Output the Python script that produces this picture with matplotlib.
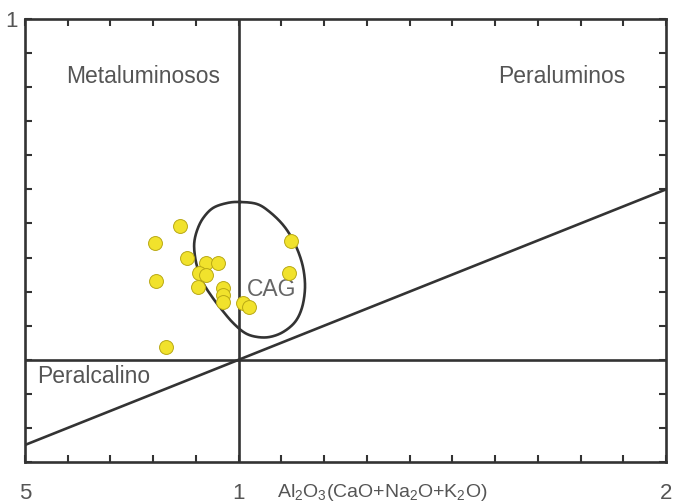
import numpy as np
import matplotlib
matplotlib.use("Agg")
import matplotlib.pyplot as plt

plt.rcParams['font.family'] = ['Liberation Sans', 'DejaVu Sans']
plt.rcParams['mathtext.fontset'] = 'custom'
plt.rcParams['mathtext.rm'] = 'Liberation Sans'
plt.rcParams['mathtext.it'] = 'Liberation Sans'

# --- data (A/CNK vs A/NK) ---
acnk = [0.863, 0.804, 0.879, 0.924, 0.952, 0.907, 0.924, 0.807, 0.905,
        0.963, 0.963, 0.963, 1.010, 1.024, 1.123, 1.118, 0.830]
ank = [1.785, 1.685, 1.597, 1.568, 1.568, 1.509, 1.497, 1.462, 1.427,
       1.421, 1.380, 1.339, 1.333, 1.310, 1.697, 1.509, 1.075]

# CAG field outline
cag_x = [1.003, 1.043, 1.073, 1.104, 1.127, 1.144, 1.153, 1.155, 1.148, 1.132,
         1.104, 1.073, 1.043, 1.015, 0.987, 0.961, 0.938, 0.917, 0.905, 0.898,
         0.896, 0.903, 0.917, 0.940, 0.973]
cag_y = [1.926, 1.914, 1.867, 1.791, 1.703, 1.603, 1.509, 1.409, 1.304, 1.222,
         1.163, 1.134, 1.134, 1.157, 1.216, 1.292, 1.368, 1.450, 1.527, 1.603,
         1.685, 1.762, 1.832, 1.891, 1.920]

xticks = np.round(np.arange(0.5, 2.0001, 0.1), 2)
xtick_labels = {0.5: '5', 1.0: '1', 2.0: '2'}
yticks = np.round(np.arange(0.4, 3.0001, 0.2), 2)
ytick_labels = {3.0: '1'}

xlabel = r'Al$_2$O$_3$(CaO+Na$_2$O+K$_2$O)'
region_labels = [('Metaluminosos', 0.597, 2.66), ('Peraluminos', 1.607, 2.66),
                 ('Peralcalino', 0.528, 0.90)]


def closed_catmull_rom(xs, ys, n=30):
    P = np.column_stack([xs, ys])
    m = len(P)
    out = []
    for i in range(m):
        p0, p1, p2, p3 = P[i - 1], P[i], P[(i + 1) % m], P[(i + 2) % m]
        t = np.linspace(0, 1, n, endpoint=False)[:, None]
        pts = 0.5 * ((2 * p1) + (-p0 + p2) * t + (2 * p0 - 5 * p1 + 4 * p2 - p3) * t ** 2
                     + (-p0 + 3 * p1 - 3 * p2 + p3) * t ** 3)
        out.append(pts)
    out = np.vstack(out)
    out = np.vstack([out, out[:1]])
    return out[:, 0], out[:, 1]


W, H = 674, 504
fig = plt.figure(figsize=(W / 100, H / 100), dpi=100)
ax = fig.add_axes([25 / W, (H - 462) / H, 641 / W, 443 / H])
ax.set_xlim(0.5, 2.0)
ax.set_ylim(0.4, 3.0)

lc = '#333333'
lw = 1.9
ax.axvline(1.0, color=lc, lw=lw, zorder=2)
ax.axhline(1.0, color=lc, lw=lw, zorder=2)
ax.plot([0.5, 2.0], [0.5, 2.0], color=lc, lw=lw, zorder=2)

cx, cy = closed_catmull_rom(cag_x, cag_y)
ax.plot(cx, cy, color=lc, lw=lw, zorder=2)

ax.scatter(acnk, ank, s=100, c='#f1e22c', edgecolors='#b9a915', linewidths=0.7, zorder=3)

ax.text(1.02, 1.41, 'CAG', fontsize=16.5, color='#666666', va='center', ha='left', zorder=2.5)
for txt, x, y in region_labels:
    ax.text(x, y, txt, fontsize=16.5, color='#555555', va='center', ha='left')

for s in ax.spines.values():
    s.set_color(lc)
    s.set_linewidth(1.9)

ax.set_xticks(xticks)
ax.set_xticklabels([xtick_labels.get(round(v, 2), '') for v in xticks])
ax.set_yticks(yticks)
ax.set_yticklabels([ytick_labels.get(round(v, 2), '') for v in yticks])
ax.tick_params(direction='in', length=5, width=1.5, color=lc,
               top=True, right=True, labelsize=16, labelcolor='#555555')
ax.tick_params(axis='x', pad=15)
ax.tick_params(axis='y', pad=5)
# right-most label sits at the figure edge (partly clipped in the reference)
ax.get_xticklabels()[-1].set_x(2.01)

ax.set_xlabel(xlabel, fontsize=14, color='#555555')
ax.xaxis.set_label_coords(0.558, -0.045)

fig.savefig('out.png', dpi=100, facecolor='white')
